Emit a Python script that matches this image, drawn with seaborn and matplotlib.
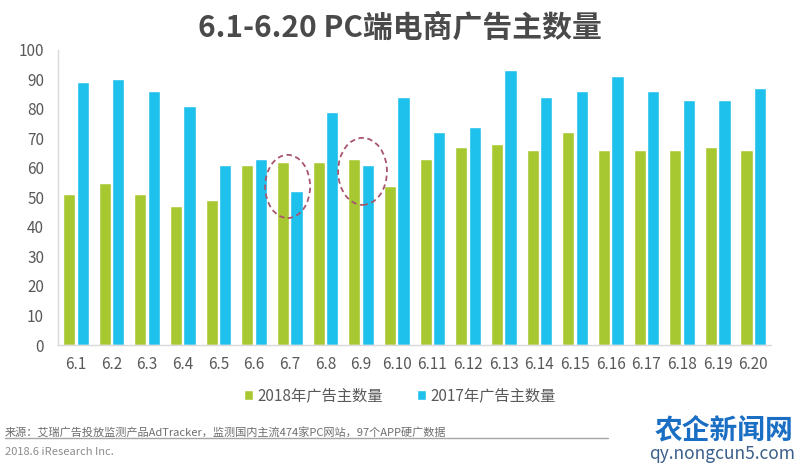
import pandas as pd
import seaborn as sns
import matplotlib.pyplot as plt
from matplotlib.patches import Ellipse

# Data
dates = ['6.1', '6.2', '6.3', '6.4', '6.5', '6.6', '6.7', '6.8', '6.9', '6.10',
         '6.11', '6.12', '6.13', '6.14', '6.15', '6.16', '6.17', '6.18', '6.19', '6.20']
count_2018 = [51, 55, 51, 47, 49, 61, 62, 62, 63, 54, 63, 67, 68, 66, 72, 66, 66, 66, 67, 66]
count_2017 = [89, 90, 86, 81, 61, 63, 52, 79, 61, 84, 72, 74, 93, 84, 86, 91, 86, 83, 83, 87]
series_names = ['2018年广告主数量', '2017年广告主数量']
y_ticks = list(range(0, 101, 10))

colors = ['#A8C832', '#1EC0EC']
grey = '#595959'

sns.set_theme(style='white')
plt.rcParams['font.family'] = ['Noto Sans CJK SC', 'DejaVu Sans']

df = pd.DataFrame({
    'date': dates * 2,
    'count': count_2018 + count_2017,
    'series': [series_names[0]] * len(dates) + [series_names[1]] * len(dates),
})

fig = plt.figure(figsize=(8, 4.65), dpi=100)
ax = fig.add_axes([0.0725, 0.258, 0.8915, 0.635])

sns.barplot(data=df, x='date', y='count', hue='series', order=dates,
            hue_order=series_names, palette=colors, width=0.76, gap=0.1,
            saturation=1, ax=ax)

ax.set_ylim(0, 100)
ax.set_yticks(y_ticks)
ax.set_xlim(-0.5, len(dates) - 0.5)
ax.set_xlabel('')
ax.set_ylabel('')
ax.tick_params(axis='both', length=0, labelsize=11, labelcolor=grey)
ax.tick_params(axis='x', pad=8)
ax.tick_params(axis='y', pad=10)
for side in ['top', 'right']:
    ax.spines[side].set_visible(False)
for side in ['left', 'bottom']:
    ax.spines[side].set_color('#D9D9D9')
    ax.spines[side].set_linewidth(1)

# dashed circles highlighting 6.7 and 6.9
for cx, cy, w, h in [(5.94, 53.7, 1.26, 21.4), (8.04, 58.8, 1.37, 22.7)]:
    ax.add_patch(Ellipse((cx, cy), w, h, fill=False, edgecolor='#A8566E',
                         linestyle=(0, (3, 2)), linewidth=1.3, zorder=5))

handles, labels = ax.get_legend_handles_labels()
ax.legend_.remove()
fig.legend(handles, labels, loc='center', bbox_to_anchor=(0.5, 0.148), ncol=2,
           frameon=False, fontsize=11, handlelength=0.6, handleheight=0.6,
           handletextpad=0.3, columnspacing=2.2, labelcolor=grey)

fig.text(0.5, 0.94, '6.1-6.20 PC端电商广告主数量', ha='center', va='center',
         fontsize=21.5, fontweight='bold', color='#4A4A4A')

# footer
fig.text(0.006, 0.07, '来源：艾瑞广告投放监测产品AdTracker，监测国内主流474家PC网站，97个APP硬广数据',
         ha='left', va='center', fontsize=8, color='#6E6E6E')
fig.add_artist(plt.Line2D([0.006, 0.76], [0.058, 0.058], color='#A6A6A6', linewidth=1))
fig.text(0.006, 0.028, '2018.6 iResearch Inc.', ha='left', va='center',
         fontsize=8, color='#8C8C8C')

# watermark
fig.text(0.992, 0.075, '农企新闻网', ha='right', va='center', fontsize=20,
         fontweight='bold', color='#1A6FC4')
fig.text(0.994, 0.024, 'qy.nongcun5.com', ha='right', va='center', fontsize=12.5,
         color='#3A5F8A')

fig.savefig('out.png', dpi=100)
